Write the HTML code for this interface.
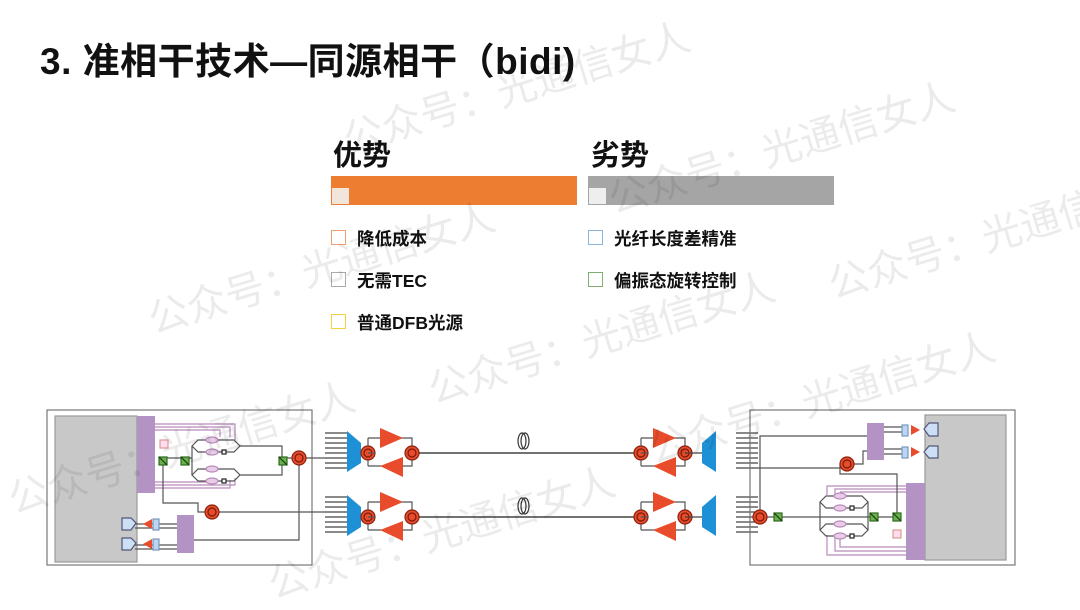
<!DOCTYPE html>
<html><head><meta charset="utf-8"><style>
body{margin:0;width:1080px;height:608px;background:#fff;overflow:hidden;position:relative;font-family:"Liberation Sans","Noto Sans CJK SC",sans-serif}
.t{position:absolute;font-weight:bold;color:#111;white-space:nowrap}
.sq{position:absolute;width:15px;height:15px;box-sizing:border-box;border:1.5px solid}
.wm{position:absolute;color:rgba(0,0,0,0.08);font-size:40px;transform:rotate(-17deg);white-space:nowrap;transform-origin:left top}
</style></head><body>
<div class="t" style="left:40px;top:31px;font-size:37px;letter-spacing:0.5px">3. 准相干技术—同源相干（bidi)</div>
<div class="t" style="left:333px;top:132px;font-size:29px">优势</div>
<div class="t" style="left:591px;top:132px;font-size:29px">劣势</div>
<div style="position:absolute;left:331px;top:176px;width:246px;height:29px;background:#ed7d31"></div>
<div style="position:absolute;left:332px;top:188px;width:17px;height:16px;background:#f2e6dc"></div>
<div style="position:absolute;left:588px;top:176px;width:246px;height:29px;background:#a5a5a5"></div>
<div style="position:absolute;left:589px;top:188px;width:17px;height:16px;background:#eeeeee"></div>
<div class="sq" style="left:331px;top:230px;border-color:#f0a070"></div>
<div class="t" style="left:357px;top:226px;font-size:17.5px">降低成本</div>
<div class="sq" style="left:331px;top:272px;border-color:#aaa"></div>
<div class="t" style="left:357px;top:268px;font-size:17.5px">无需TEC</div>
<div class="sq" style="left:331px;top:314px;border-color:#f5d040"></div>
<div class="t" style="left:357px;top:310px;font-size:17.5px">普通DFB光源</div>
<div class="sq" style="left:588px;top:230px;border-color:#8ab4d8"></div>
<div class="t" style="left:614px;top:226px;font-size:17.5px">光纤长度差精准</div>
<div class="sq" style="left:588px;top:272px;border-color:#80b070"></div>
<div class="t" style="left:614px;top:268px;font-size:17.5px">偏振态旋转控制</div>

<svg width="1080" height="608" style="position:absolute;left:0;top:0" stroke-width="1.2">
<defs>
<g id="mzi" fill="none" stroke="#555">
 <path d="M0,0 L6,-6 L42,-6 L48,0 L42,6 L6,6 Z"/>
 <ellipse cx="20" cy="-6" rx="6" ry="3" fill="#e8cce8" stroke="#b98ab9"/>
 <ellipse cx="20" cy="6" rx="6" ry="3" fill="#e8cce8" stroke="#b98ab9"/>
 <rect x="30" y="4" width="4" height="4" fill="#fff" stroke="#222"/>
</g>
<g id="gsq"><rect x="-4" y="-4" width="8" height="8" fill="#6ab04c" stroke="#2d6a1f"/><line x1="-4" y1="-4" x2="4" y2="4" stroke="#1a3a10"/></g>
<g id="circ"><circle r="7" fill="#e84c2b" stroke="#8a2210"/><circle r="4" fill="none" stroke="#7a1a0a"/></g>
<g id="amp" stroke="#555" fill="none">
 <use href="#circ" x="0" y="0"/>
 <path d="M7,0 L0,0 M0,-15 L44,-15 L44,13 L0,13 M0,-15 L0,-7 M0,7 L0,13 M44,-15 L44,-7 M44,7 L44,13"/>
 <polygon points="12,-25 35,-15 12,-5" fill="#e84c2b" stroke="none"/>
 <polygon points="35,4 12,13 35,24" fill="#e84c2b" stroke="none"/>
 <use href="#circ" x="44" y="0"/>
</g>
</defs>
<rect x="47" y="410" width="265" height="155" fill="none" stroke="#777"/>
<rect x="55" y="416" width="82" height="146" fill="#c8c8c8" stroke="#999"/>
<rect x="137" y="416" width="18" height="77" fill="#b393c4"/>
<g stroke="#b98ab9" fill="none">
<path d="M155,424 H235 V440 M155,427 H230 V437 M155,430 H220 V437"/>
<path d="M155,485 H235 V478 M155,488 H230 V480 M155,482 H215 V480"/>
</g>
<rect x="160" y="440" width="8" height="8" fill="#fde" stroke="#d99"/>
<g stroke="#555" fill="none">
<path d="M163,458 H192 M192,446 V475 M240,446 H282 V475 H240 M282,458 H299"/>
<path d="M163,458 V503 H198 V512 H206 M219,512 H325 M299,465 V540 H194"/>
<path d="M306,458 H325"/>
<path d="M194,524 H135 M194,528 H135 M194,545 H135 M194,549 H135"/>
</g>
<use href="#mzi" x="192" y="446"/><use href="#mzi" x="192" y="475"/>
<use href="#gsq" x="163" y="461"/><use href="#gsq" x="185" y="461"/><use href="#gsq" x="283" y="461"/>
<use href="#circ" x="299" y="458"/><use href="#circ" x="212" y="512"/>
<rect x="177" y="515" width="17" height="38" fill="#b393c4"/>
<path d="M122,518 H131 L136,523 L131,530 H122 Z M122,538 H131 L136,543 L131,550 H122 Z" fill="#cce0f5" stroke="#557"/>
<polygon points="143,524 152,519 152,529" fill="#e84c2b"/><polygon points="143,544 152,539 152,549" fill="#e84c2b"/>
<rect x="153" y="519" width="6" height="11" fill="#bcd5f5" stroke="#79b"/><rect x="153" y="539" width="6" height="11" fill="#bcd5f5" stroke="#79b"/>
<g stroke="#444">
<path d="M325,433H348M325,438H348M325,443H348M325,448H348M325,453H348M325,458H348M325,463H348M325,468H348"/>
<path d="M325,497H348M325,502H348M325,507H348M325,512H348M325,517H348M325,522H348M325,527H348M325,532H348"/>
<path d="M736,433H758M736,438H758M736,443H758M736,448H758M736,453H758M736,458H758M736,463H758M736,468H758"/>
<path d="M736,497H758M736,502H758M736,507H758M736,512H758M736,517H758M736,522H758M736,527H758M736,532H758"/>
<path d="M418,453H634 M418,517H634" stroke-width="1.5"/>
</g>
<polygon points="347,431 361,443 361,463 347,472" fill="#1e90d6"/>
<polygon points="347,495 361,507 361,527 347,536" fill="#1e90d6"/>
<polygon points="716,431 702,443 702,463 716,472" fill="#1e90d6"/>
<polygon points="716,495 702,507 702,527 716,536" fill="#1e90d6"/>
<use href="#amp" x="368" y="453"/><use href="#amp" x="368" y="517"/>
<use href="#amp" x="641" y="453"/><use href="#amp" x="641" y="517"/>
<path d="M685,453H702 M685,517H702" stroke="#444"/>
<ellipse cx="522" cy="441" rx="4" ry="8" fill="#fff" stroke="#333"/><ellipse cx="525" cy="441" rx="4" ry="8" fill="none" stroke="#333"/>
<ellipse cx="522" cy="506" rx="4" ry="8" fill="#fff" stroke="#333"/><ellipse cx="525" cy="506" rx="4" ry="8" fill="none" stroke="#333"/>
<rect x="750" y="410" width="265" height="155" fill="none" stroke="#777"/>
<rect x="925" y="415" width="81" height="145" fill="#c8c8c8" stroke="#999"/>
<rect x="906" y="483" width="19" height="77" fill="#b393c4"/>
<g stroke="#b98ab9" fill="none">
<path d="M906,486 H827 V495 M906,489 H835 V495 M906,492 H840"/>
<path d="M906,555 H827 V535 M906,551 H835 V538 M906,547 H840 V538"/>
</g>
<rect x="893" y="530" width="8" height="8" fill="#fde" stroke="#d99"/>
<g stroke="#555" fill="none">
<path d="M758,468 H845 M767,517 H870 M820,502 V530 M868,502 V530 M868,517 H900"/>
<path d="M760,510 V436 H867 M854,464 H863 V451 H867 M840,464 V474 H897 V517"/>
<path d="M884,427 H905 M884,432 H905 M884,449 H905 M884,454 H905"/>
</g>
<use href="#mzi" x="820" y="502"/><use href="#mzi" x="820" y="530"/>
<use href="#gsq" x="778" y="517"/><use href="#gsq" x="874" y="517"/><use href="#gsq" x="897" y="517"/>
<use href="#circ" x="760" y="517"/><use href="#circ" x="847" y="464"/>
<rect x="867" y="423" width="17" height="37" fill="#b393c4"/>
<rect x="902" y="425" width="6" height="11" fill="#bcd5f5" stroke="#79b"/><rect x="902" y="447" width="6" height="11" fill="#bcd5f5" stroke="#79b"/>
<polygon points="920,430 911,425 911,435" fill="#e84c2b"/><polygon points="920,452 911,447 911,457" fill="#e84c2b"/>
<path d="M938,423 H929 L924,429 L929,436 H938 Z M938,446 H929 L924,452 L929,458 H938 Z" fill="#cce0f5" stroke="#557"/>
</svg>
<div class="wm" style="left:335px;top:110px">公众号：光通信女人</div>
<div class="wm" style="left:600px;top:170px">公众号：光通信女人</div>
<div class="wm" style="left:140px;top:290px">公众号：光通信女人</div>
<div class="wm" style="left:420px;top:360px">公众号：光通信女人</div>
<div class="wm" style="left:820px;top:255px">公众号：光通信女</div>
<div class="wm" style="left:0px;top:470px">公众号：光通信女人</div>
<div class="wm" style="left:640px;top:420px">公众号：光通信女人</div>
<div class="wm" style="left:260px;top:555px">公众号：光通信女人</div>
</body></html>
